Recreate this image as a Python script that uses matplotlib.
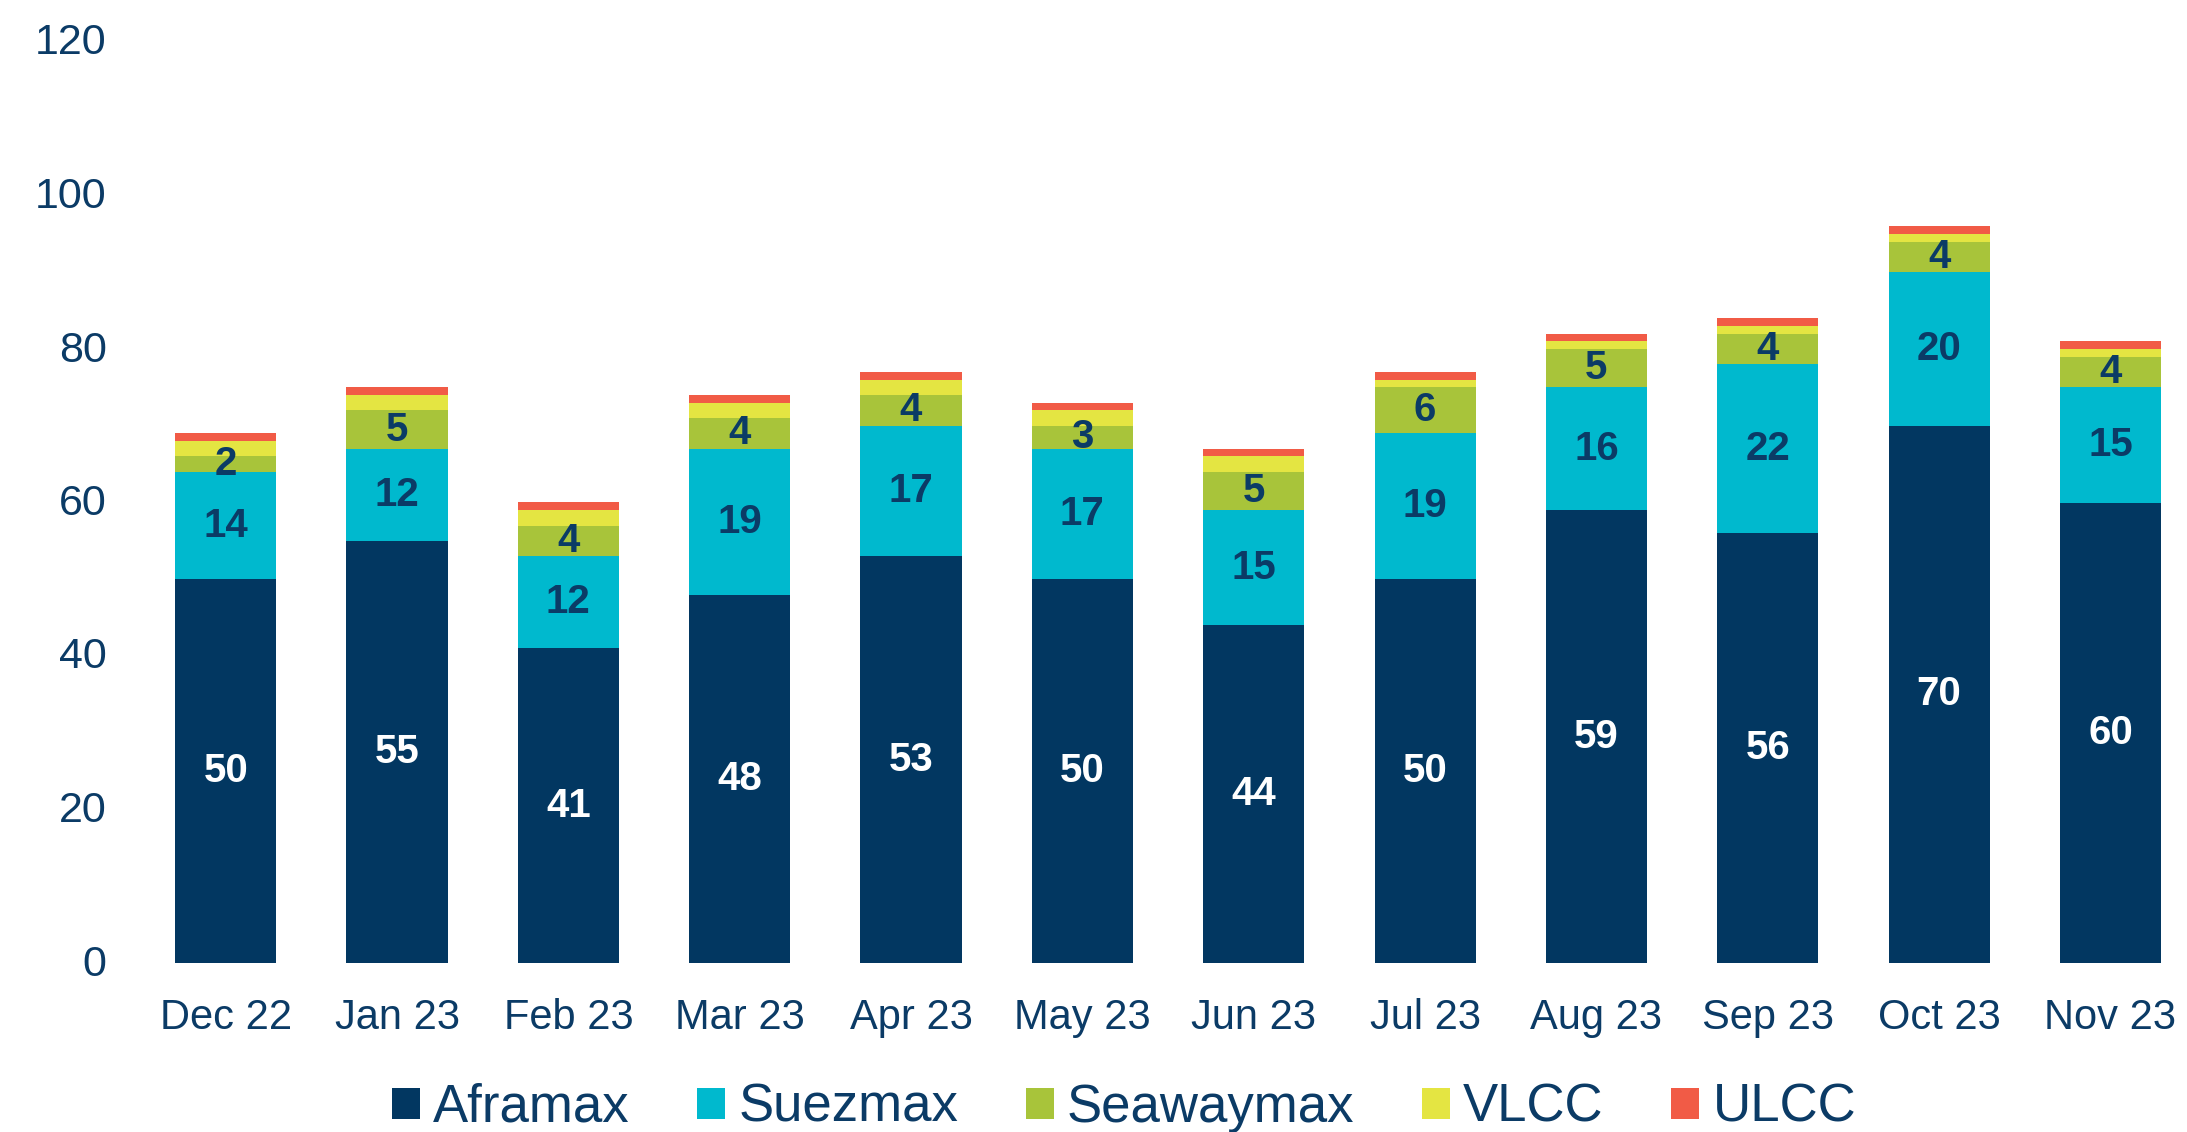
import matplotlib
matplotlib.use("Agg")
import matplotlib.pyplot as plt
import matplotlib.transforms as mtransforms
import numpy as np
from matplotlib.patches import Patch

plt.rcParams['font.family'] = ['Liberation Sans', 'DejaVu Sans']

months = ["Dec 22", "Jan 23", "Feb 23", "Mar 23", "Apr 23", "May 23",
          "Jun 23", "Jul 23", "Aug 23", "Sep 23", "Oct 23", "Nov 23"]
aframax = [50, 55, 41, 48, 53, 50, 44, 50, 59, 56, 70, 60]
suezmax = [14, 12, 12, 19, 17, 17, 15, 19, 16, 22, 20, 15]
seawaymax = [2, 5, 4, 4, 4, 3, 5, 6, 5, 4, 4, 4]
vlcc = [2, 2, 2, 2, 2, 2, 2, 1, 1, 1, 1, 1]
ulcc = [1, 1, 1, 1, 1, 1, 1, 1, 1, 1, 1, 1]
series_names = ["Aframax", "Suezmax", "Seawaymax", "VLCC", "ULCC"]
y_ticks = [0, 20, 40, 60, 80, 100, 120]

colors = ["#023761", "#00B9CE", "#A8C43A", "#E4E542", "#F15B46"]
text_color = "#0B3B66"

W, H = 2187, 1132
fig = plt.figure(figsize=(W / 100, H / 100), dpi=100)
left_px, right_px = 140, 2187
bottom_px, top_px = 963, 42
ax = fig.add_axes([left_px / W, (H - bottom_px) / H,
                   (right_px - left_px) / W, (bottom_px - top_px) / H])

x = np.arange(len(months))
width = 0.59
data = [aframax, suezmax, seawaymax, vlcc, ulcc]
bottom = np.zeros(len(months))
for i, (vals, c) in enumerate(zip(data, colors)):
    vals = np.array(vals, dtype=float)
    ax.bar(x, vals, width, bottom=bottom, color=c, edgecolor='none')
    if i < 3:
        tc = "white" if i == 0 else text_color
        for xi, b, v in zip(x, bottom, vals):
            ax.text(xi, b + v / 2, f"{int(v)}", ha='center', va='center',
                    color=tc, fontsize=29, fontweight='bold')
    bottom += vals

ax.set_ylim(0, 120)
ax.set_xlim(-0.5, 11.447)
ax.set_yticks(y_ticks)
ax.set_xticks(x)
ax.set_xticklabels(months)
ax.tick_params(axis='y', length=0, pad=24, labelsize=31, labelcolor=text_color)
ax.tick_params(axis='x', length=0, pad=25, labelsize=30, labelcolor=text_color)
offset = mtransforms.ScaledTranslation(0, 3 / 100, fig.dpi_scale_trans)
for lbl in ax.get_yticklabels():
    lbl.set_transform(lbl.get_transform() + offset)
for s in ax.spines.values():
    s.set_visible(False)

handles = [Patch(facecolor=c, edgecolor='none') for c in colors]
leg = fig.legend(handles, series_names, loc='center',
                 bbox_to_anchor=(1124 / W, 1 - 1108 / H), ncol=5, frameon=False,
                 fontsize=38, handlelength=0.53, handleheight=0.53,
                 handletextpad=0.25, columnspacing=1.28, borderpad=0)
for t in leg.get_texts():
    t.set_color(text_color)

fig.savefig("out.png", dpi=100)
